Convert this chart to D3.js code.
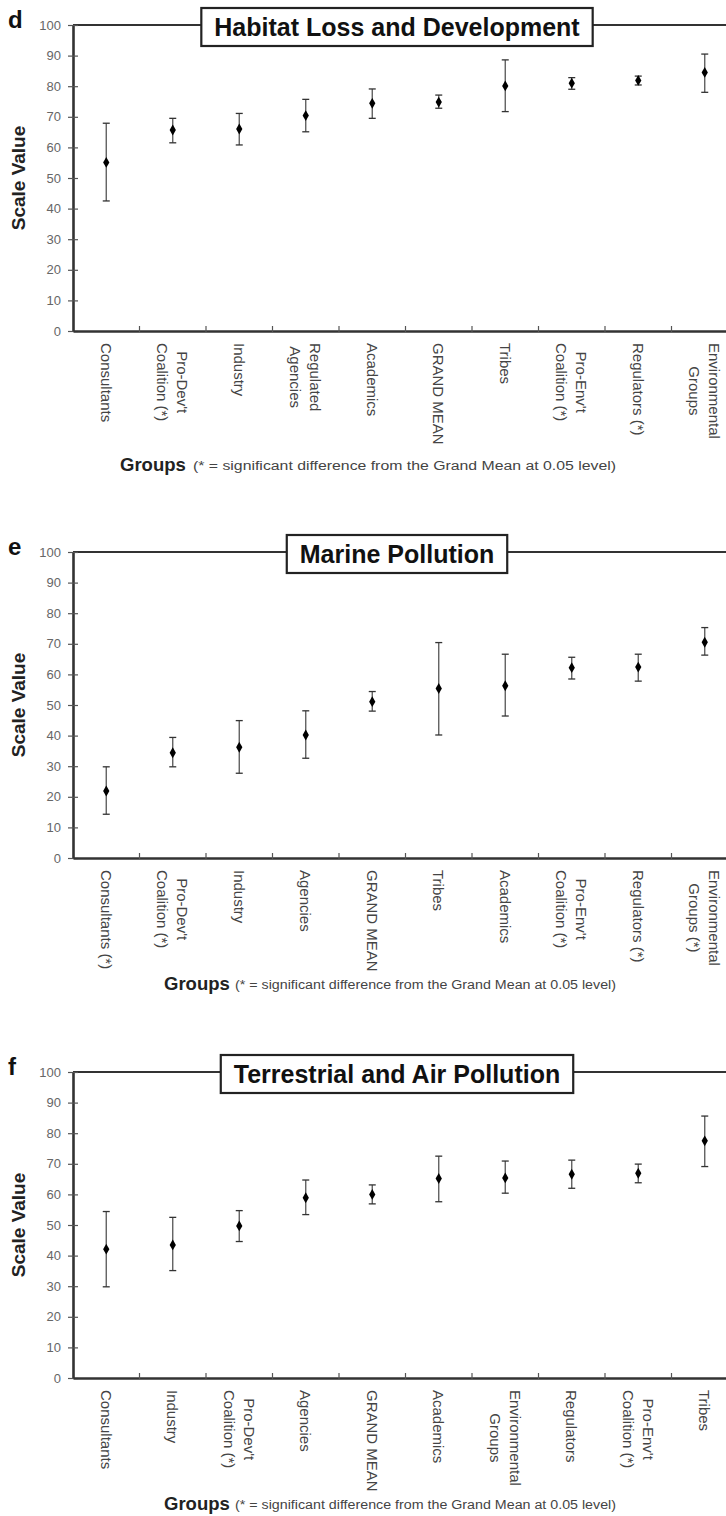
<!DOCTYPE html>
<html>
<head>
<meta charset="utf-8">
<script src="https://cdn.jsdelivr.net/npm/d3@7"></script>
<style>
  body { margin: 0; background: #fff; }
  text { font-family: "Liberation Sans", Arial, sans-serif; }
</style>
</head>
<body>
<div id="chart"></div>
<script>
// y axis ticks shared by the three panels
var yTicks = [0, 10, 20, 30, 40, 50, 60, 70, 80, 90, 100];

// d: Habitat Loss and Development
var habitatGroups = ["Consultants", "Pro-Dev't\nCoalition (*)", "Industry", "Regulated\nAgencies", "Academics",
  "GRAND MEAN", "Tribes", "Pro-Env't\nCoalition (*)", "Regulators (*)", "Environmental\nGroups"];
var habitatMean = [55.1, 65.7, 66.0, 70.4, 74.4, 74.8, 80.1, 81.0, 81.9, 84.5];
var habitatLow  = [42.5, 61.5, 60.8, 65.1, 69.5, 72.8, 71.7, 79.0, 80.4, 78.0];
var habitatHigh = [67.9, 69.5, 71.1, 75.7, 79.1, 77.1, 88.6, 82.8, 83.3, 90.5];

// e: Marine Pollution
var marineGroups = ["Consultants (*)", "Pro-Dev't\nCoalition (*)", "Industry", "Agencies", "GRAND MEAN",
  "Tribes", "Academics", "Pro-Env't\nCoalition (*)", "Regulators (*)", "Environmental\nGroups (*)"];
var marineMean = [21.9, 34.4, 36.2, 40.2, 51.1, 55.4, 56.3, 62.2, 62.4, 70.5];
var marineLow  = [14.3, 29.8, 27.7, 32.6, 48.0, 40.2, 46.4, 58.5, 57.8, 66.3];
var marineHigh = [29.8, 39.4, 44.9, 48.1, 54.4, 70.4, 66.6, 65.6, 66.6, 75.3];

// f: Terrestrial and Air Pollution
var terrGroups = ["Consultants", "Industry", "Pro-Dev't\nCoalition (*)", "Agencies", "GRAND MEAN",
  "Academics", "Environmental\nGroups", "Regulators", "Pro-Env't\nCoalition (*)", "Tribes"];
var terrMean = [42.1, 43.5, 49.7, 58.9, 60.0, 65.2, 65.4, 66.6, 66.9, 77.5];
var terrLow  = [29.8, 35.1, 44.6, 53.4, 56.9, 57.6, 60.4, 62.0, 63.8, 69.1];
var terrHigh = [54.4, 52.5, 54.7, 64.7, 63.1, 72.5, 70.9, 71.2, 69.9, 85.6];

var svgWidth = 726;
var svgHeight = 1516;
var plotLeft = 73, plotRight = 738, plotH = 306;

var svg = d3.select("#chart")
  .append("svg")
  .attr("width", svgWidth)
  .attr("height", svgHeight);

var panels = [
  { letter: "d", title: "Habitat Loss and Development", groups: habitatGroups, mean: habitatMean, low: habitatLow, high: habitatHigh,
    top: 25, capY: 471, capX: 120, noteX: 193, noteLen: 423 },
  { letter: "e", title: "Marine Pollution", groups: marineGroups, mean: marineMean, low: marineLow, high: marineHigh,
    top: 552, capY: 990, capX: 164, noteX: 235, noteLen: 381 },
  { letter: "f", title: "Terrestrial and Air Pollution", groups: terrGroups, mean: terrMean, low: terrLow, high: terrHigh,
    top: 1072, capY: 1510, capX: 164, noteX: 235, noteLen: 381 }
];

panels.forEach(function(p) {
  var g = svg.append("g");
  var bottom = p.top + plotH;

  var x = d3.scaleBand().domain(p.groups).range([plotLeft, plotRight]);
  var y = d3.scaleLinear().domain([0, 100]).range([bottom, p.top]);
  var bw = x.bandwidth();

  // top frame line
  g.append("line")
    .attr("x1", plotLeft).attr("x2", svgWidth)
    .attr("y1", p.top).attr("y2", p.top)
    .attr("stroke", "#333").attr("stroke-width", 2.2);

  // y axis
  var yAxis = g.append("g")
    .attr("transform", `translate(${plotLeft},0)`)
    .call(d3.axisLeft(y).tickValues(yTicks).tickSizeInner(5).tickSizeOuter(0).tickPadding(7));
  yAxis.select(".domain").attr("stroke", "#333").attr("stroke-width", 2.6);
  yAxis.selectAll(".tick line").attr("x1", 5).attr("stroke", "#555").attr("stroke-width", 1.2);
  yAxis.selectAll(".tick text")
    .attr("fill", "#666")
    .attr("font-size", "13px")
    .style("font-family", "'Liberation Sans', Arial, sans-serif");

  // x axis line
  var xAxis = g.append("g")
    .attr("transform", `translate(0,${bottom})`)
    .call(d3.axisBottom(x).tickSize(0).tickFormat(""));
  xAxis.select(".domain").attr("stroke", "#333").attr("stroke-width", 2.6);

  // tick marks between the groups
  g.selectAll(".xtick")
    .data(p.groups.slice(1))
    .enter().append("line")
    .attr("x1", d => x(d)).attr("x2", d => x(d))
    .attr("y1", bottom - 5).attr("y2", bottom + 1)
    .attr("stroke", "#555").attr("stroke-width", 1.2);

  // group labels, rotated to read downward
  var lab = g.selectAll(".xlab")
    .data(p.groups)
    .enter().append("g")
    .attr("transform", d => `translate(${x(d) + bw / 2},${bottom + 12}) rotate(90)`);

  lab.each(function(d) {
    var lines = d.split("\n");
    var el = d3.select(this);
    var texts = lines.map(function(line, i) {
      return el.append("text")
        .attr("y", (i - (lines.length - 1) / 2) * 20)
        .attr("dominant-baseline", "central")
        .attr("text-anchor", "middle")
        .attr("fill", "#444")
        .attr("font-size", "15px")
        .text(line);
    });
    var maxLen = d3.max(texts, t => t.node().getComputedTextLength());
    texts.forEach(t => t.attr("x", maxLen / 2));
  });

  // error bars
  var bars = g.selectAll(".bar")
    .data(p.groups)
    .enter().append("g");

  bars.append("line")
    .attr("x1", d => x(d) + bw / 2).attr("x2", d => x(d) + bw / 2)
    .attr("y1", (d, i) => y(p.low[i])).attr("y2", (d, i) => y(p.high[i]))
    .attr("stroke", "#555").attr("stroke-width", 1.3);

  ["low", "high"].forEach(function(k) {
    bars.append("line")
      .attr("x1", d => x(d) + bw / 2 - 3.5).attr("x2", d => x(d) + bw / 2 + 3.5)
      .attr("y1", (d, i) => y(p[k][i])).attr("y2", (d, i) => y(p[k][i]))
      .attr("stroke", "#333").attr("stroke-width", 1.3);
  });

  bars.append("path")
    .attr("d", d3.symbol().type(d3.symbolDiamond).size(34))
    .attr("transform", (d, i) => `translate(${x(d) + bw / 2},${y(p.mean[i])})`)
    .attr("fill", "#000");

  // title box over the top line
  var tg = g.append("g");
  var rect = tg.append("rect");
  var title = tg.append("text")
    .attr("x", 397).attr("y", p.top + 11)
    .attr("text-anchor", "middle")
    .attr("font-size", "25px")
    .attr("font-weight", "bold")
    .attr("fill", "#111")
    .text(p.title);
  var tw = title.node().getComputedTextLength();
  rect.attr("x", 397 - tw / 2 - 13).attr("y", p.top - 17)
    .attr("width", tw + 26).attr("height", 38)
    .attr("fill", "#fff").attr("stroke", "#222").attr("stroke-width", 2.2);

  // panel letter
  g.append("text")
    .attr("x", 8).attr("y", p.top + 3)
    .attr("font-size", "24px").attr("font-weight", "bold")
    .attr("fill", "#111")
    .text(p.letter);

  // y axis label
  g.append("text")
    .attr("transform", `translate(25,${p.top + plotH / 2}) rotate(-90)`)
    .attr("text-anchor", "middle")
    .attr("font-size", "19px").attr("font-weight", "bold")
    .attr("fill", "#222")
    .text("Scale Value");

  // x axis caption
  g.append("text")
    .attr("x", p.capX).attr("y", p.capY)
    .attr("font-size", "18.5px").attr("font-weight", "bold")
    .attr("fill", "#222")
    .text("Groups");
  g.append("text")
    .attr("x", p.noteX).attr("y", p.capY - 1)
    .attr("font-size", "12px")
    .attr("fill", "#444")
    .attr("textLength", p.noteLen)
    .attr("lengthAdjust", "spacingAndGlyphs")
    .text("(* = significant difference from the Grand Mean at 0.05 level)");
});
</script>
</body>
</html>
